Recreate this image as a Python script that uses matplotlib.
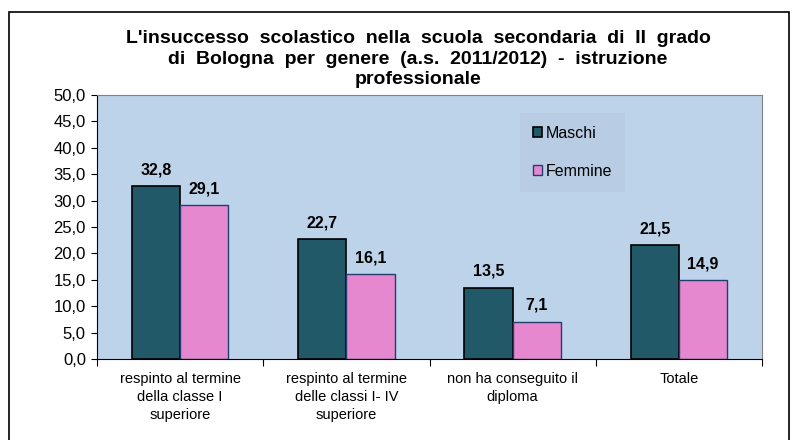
import matplotlib.pyplot as plt
import numpy as np
from matplotlib.patches import Rectangle

plt.rcParams['font.family'] = ['Liberation Sans', 'DejaVu Sans']

# dati
categorie = ["respinto al termine\ndella classe I\nsuperiore",
             "respinto al termine\ndelle classi I- IV\nsuperiore",
             "non ha conseguito il\ndiploma",
             "Totale"]
maschi = [32.8, 22.7, 13.5, 21.5]
femmine = [29.1, 16.1, 7.1, 14.9]
yticks = np.arange(0, 50.1, 5)

fig = plt.figure(figsize=(7.96, 4.40), dpi=100)
# cornice esterna
fig.patches.append(Rectangle((9/796, -0.05), 780/796, 1 - 12/440 + 0.05,
                             transform=fig.transFigure, fill=False,
                             edgecolor="black", linewidth=1.2))

ax = fig.add_axes([97/796, 1 - 359/440, 665/796, 264/440])
ax.set_facecolor("#BDD3EA")

x = np.arange(len(categorie))
w = 0.29
b1 = ax.bar(x - w/2, maschi, w, color="#215968", edgecolor="black", linewidth=1.2, label="Maschi")
b2 = ax.bar(x + w/2, femmine, w, color="#E688D0", edgecolor="#1F3F6E", linewidth=1.0, label="Femmine")

# etichette valori
for bars, vals in [(b1, maschi), (b2, femmine)]:
    for rect, v in zip(bars, vals):
        ax.annotate(f"{v:.1f}".replace(".", ","),
                    (rect.get_x() + rect.get_width()/2, v),
                    xytext=(0, 8.5), textcoords="offset points",
                    ha="center", va="baseline", fontsize=11.5, fontweight="bold")

ax.set_xlim(-0.5, 3.5)
ax.set_ylim(0, 50)
ax.set_yticks(yticks)
ax.set_yticklabels([f"{t:.1f}".replace(".", ",") for t in yticks], fontsize=12)
ax.set_xticks(np.arange(-0.5, 3.6, 1))
ax.set_xticklabels([])
ax.set_xticks(x, minor=True)
ax.set_xticklabels(categorie, minor=True, fontsize=10.5, linespacing=1.4)
ax.tick_params(axis="x", which="minor", length=0, pad=9)
ax.tick_params(axis="x", which="major", length=5, direction="out")
ax.tick_params(axis="y", length=4, pad=4)
ax.spines["top"].set_color("#808080")
ax.spines["right"].set_color("#808080")

leg = ax.legend(loc="upper left", bbox_to_anchor=(423/665, 1 - 18/264), fontsize=11.5,
                frameon=True, fancybox=False, handlelength=0.6, handleheight=0.6,
                handletextpad=0.2, labelspacing=1.45, borderpad=0.8, borderaxespad=0)
leg.get_frame().set_facecolor("#B8CCE4")
leg.get_frame().set_edgecolor("none")
leg.get_frame().set_alpha(1)

fig.text(418/796, 1 - 59/440,
         "L'insuccesso  scolastico  nella  scuola  secondaria  di  II  grado\n"
         "di  Bologna  per  genere  (a.s.  2011/2012)  -  istruzione\nprofessionale",
         ha="center", va="center", fontsize=14, fontweight="bold", linespacing=1.3)

fig.savefig("out.png", dpi=100)
